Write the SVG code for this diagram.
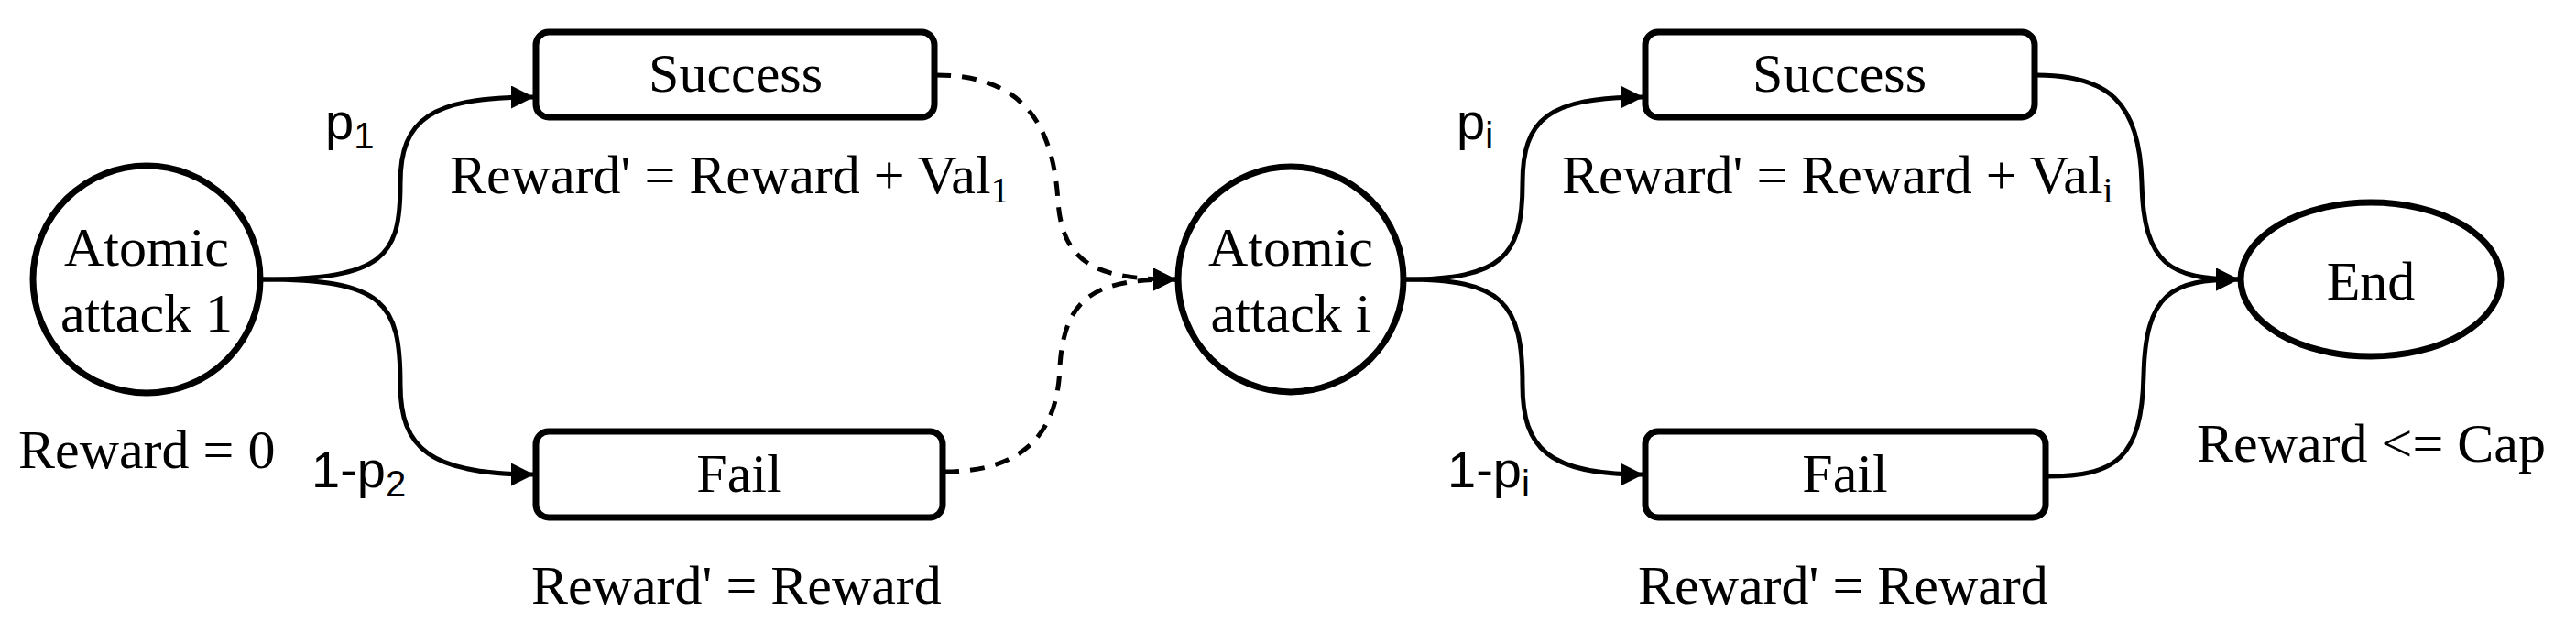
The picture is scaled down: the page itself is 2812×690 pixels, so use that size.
<svg xmlns="http://www.w3.org/2000/svg" width="2812" height="690" viewBox="0 0 2812 690">
<style>
.n{fill:#fff;stroke:#000;stroke-width:7}
.t{font-family:"Liberation Serif",serif;font-size:60px;fill:#000}
.s{font-family:"Liberation Sans",sans-serif;font-size:56px;fill:#000}
.e{fill:none;stroke:#000;stroke-width:5}
.d{stroke-dasharray:16 12}
</style>
<defs>
<marker id="a" viewBox="0 0 10 10" refX="10" refY="5" markerWidth="5" markerHeight="5" orient="auto" markerUnits="strokeWidth">
<path d="M0,0 L10,5 L0,10 z" fill="#000"/>
</marker>
</defs>
<rect width="2812" height="690" fill="#fff"/>
<g id="edges">
<path class="e" d="M286,305 C420,305 437,280 437,200 C437,130 470,106 583,106" marker-end="url(#a)"/>
<path class="e" d="M286,305 C420,305 437,330 437,420 C437,490 470,518 583,518" marker-end="url(#a)"/>
<path class="e d" d="M1022,82 C1120,82 1150,140 1155,220 C1160,290 1200,305 1284,305" marker-end="url(#a)"/>
<path class="e d" d="M1031,515 C1120,515 1155,470 1157,400 C1162,320 1200,305 1284,305" marker-end="url(#a)"/>
<path class="e" d="M1534,305 C1640,305 1662,280 1662,200 C1662,130 1690,106 1794,106" marker-end="url(#a)"/>
<path class="e" d="M1534,305 C1640,305 1662,330 1662,420 C1662,490 1690,518 1794,518" marker-end="url(#a)"/>
<path class="e" d="M2223,82 C2300,82 2336,110 2338,200 C2340,290 2370,305 2444,305" marker-end="url(#a)"/>
<path class="e" d="M2235,520 C2310,520 2338,500 2340,410 C2342,320 2370,305 2444,305" marker-end="url(#a)"/>
</g>
<g id="atomic1"><circle class="n" cx="160" cy="305" r="124"/>
<text class="t" x="160" y="290" text-anchor="middle">Atomic</text>
<text class="t" x="160" y="362" text-anchor="middle">attack 1</text></g>
<g id="success1"><rect class="n" x="585" y="35" width="435" height="93" rx="14"/>
<text class="t" x="803" y="100" text-anchor="middle">Success</text></g>
<g id="fail1"><rect class="n" x="585" y="471" width="444" height="94" rx="14"/>
<text class="t" x="807" y="537" text-anchor="middle">Fail</text></g>
<g id="atomici"><circle class="n" cx="1409" cy="305" r="123"/>
<text class="t" x="1409" y="290" text-anchor="middle">Atomic</text>
<text class="t" x="1409" y="362" text-anchor="middle">attack i</text></g>
<g id="success2"><rect class="n" x="1796" y="35" width="425" height="93" rx="14"/>
<text class="t" x="2008" y="100" text-anchor="middle">Success</text></g>
<g id="fail2"><rect class="n" x="1796" y="471" width="437" height="94" rx="14"/>
<text class="t" x="2014" y="537" text-anchor="middle">Fail</text></g>
<g id="end"><ellipse class="n" cx="2588" cy="305" rx="142" ry="84"/>
<text class="t" x="2588" y="327" text-anchor="middle">End</text></g>
<g id="labels">
<text class="s" x="355" y="152">p<tspan font-size="40" dy="10">1</tspan></text>
<text class="s" x="340" y="532">1-p<tspan font-size="40" dy="10">2</tspan></text>
<text class="s" x="1590" y="152">p<tspan font-size="40" dy="10">i</tspan></text>
<text class="s" x="1580" y="532">1-p<tspan font-size="40" dy="10">i</tspan></text>
<text class="t" x="491" y="211">Reward' = Reward + Val<tspan font-size="40" dy="10">1</tspan></text>
<text class="t" x="1705" y="211">Reward' = Reward + Val<tspan font-size="40" dy="10">i</tspan></text>
<text class="t" x="20" y="511">Reward = 0</text>
<text class="t" x="580" y="659">Reward' = Reward</text>
<text class="t" x="1788" y="659">Reward' = Reward</text>
<text class="t" x="2398" y="504">Reward &lt;= Cap</text>
</g>
</svg>
